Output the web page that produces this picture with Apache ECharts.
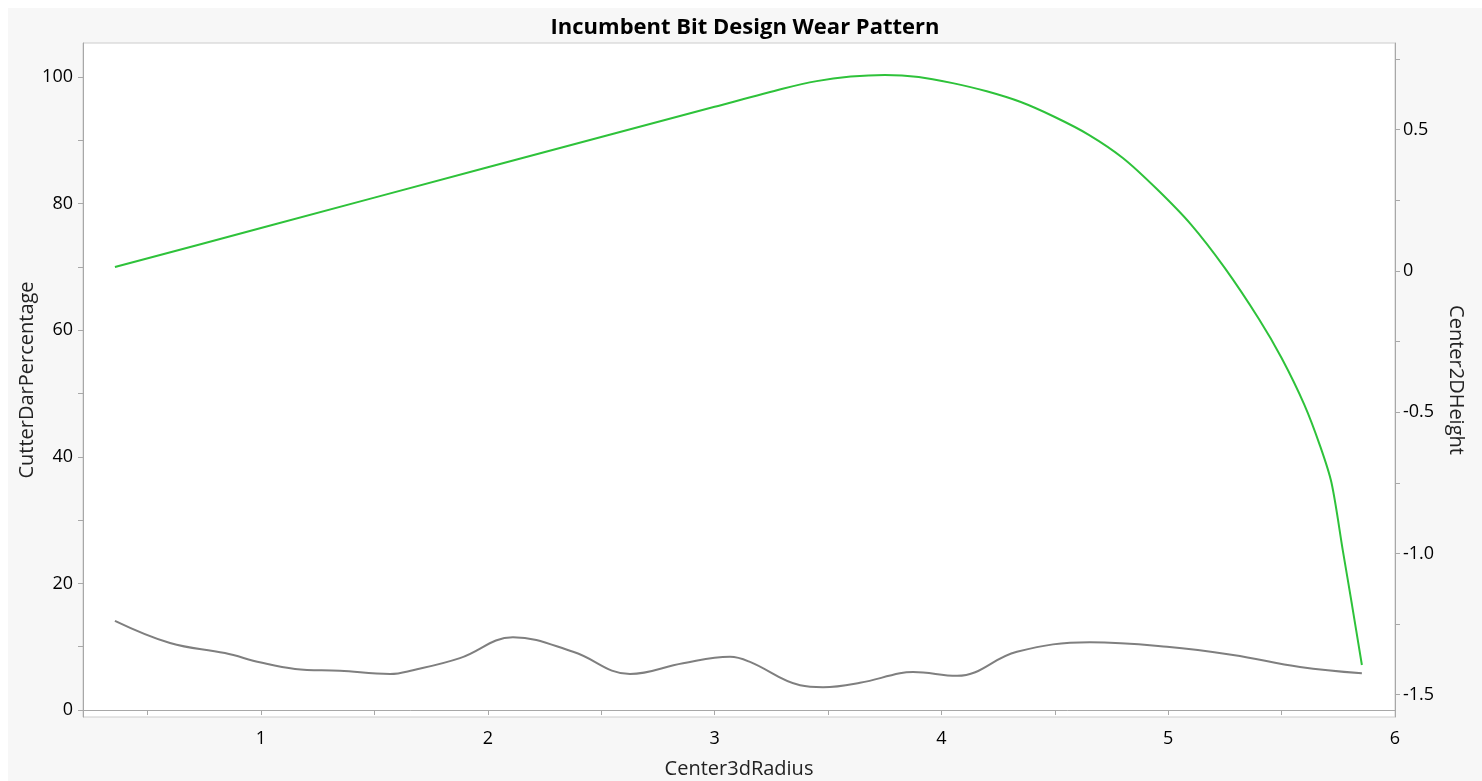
<!DOCTYPE html>
<html lang="en">
<head>
    <meta charset="UTF-8">
    <title>Incumbent Bit Design Wear Pattern</title>
    <style>
        html, body { margin: 0; padding: 0; background: #fff; }
        #chart {
            position: absolute;
            left: 8px;
            top: 8px;
            width: 1474px;
            height: 773px;
        }
    </style>
</head>
<body>
    <div id="chart"></div>
</body>
<script src="https://cdn.jsdelivr.net/npm/echarts@6/dist/echarts.min.js"></script>
<script>
    // Center2DHeight profile (green, right axis)
    var heightRadius = [0.356, 1.0, 2.0, 3.0, 3.30, 3.45, 3.60, 3.75, 3.90, 4.05, 4.20, 4.35, 4.50, 4.65, 4.80, 4.95, 5.10, 5.25, 5.40, 5.50, 5.60, 5.67, 5.72, 5.77, 5.81, 5.854];
    var heightValues = [0.014, 0.152, 0.367, 0.581, 0.645, 0.672, 0.688, 0.694, 0.687, 0.665, 0.636, 0.598, 0.545, 0.482, 0.400, 0.290, 0.165, 0.010, -0.170, -0.308, -0.473, -0.620, -0.750, -0.99, -1.18, -1.395];

    // CutterDarPercentage (gray, left axis)
    var darRadius = [0.356, 0.599, 0.841, 1.0, 1.15, 1.348, 1.569, 1.67, 1.877, 2.111, 2.376, 2.627, 2.861, 3.068, 3.156, 3.377, 3.478, 3.641, 3.817, 3.875, 4.069, 4.333, 4.655, 4.995, 5.286, 5.581, 5.854];
    var darValues = [14.1, 10.6, 9.0, 7.5, 6.5, 6.2, 5.7, 6.3, 8.2, 11.5, 9.2, 5.7, 7.4, 8.4, 7.6, 3.9, 3.6, 4.3, 5.8, 6.0, 5.4, 9.2, 10.7, 10.0, 8.7, 6.8, 5.8];

    // tick labels
    var xLabels = [1, 2, 3, 4, 5, 6];
    var xTicks = [0.5, 1, 1.5, 2, 2.5, 3, 3.5, 4, 4.5, 5, 5.5, 6];
    var leftLabels = [0, 20, 40, 60, 80, 100];
    var leftTicks = [0, 10, 20, 30, 40, 50, 60, 70, 80, 90, 100];
    var rightLabels = [-1.5, -1.0, -0.5, 0, 0.5];
    var rightTicks = [-1.5, -1.25, -1.0, -0.75, -0.5, -0.25, 0, 0.25, 0.5, 0.75];

    var font = 'Open Sans';
    var axisColor = '#a8a8a8';

    function pairs(xs, ys) {
        return xs.map(function (x, i) { return [x, ys[i]]; });
    }

    var mChart = echarts.init(document.getElementById('chart'));
    var option = {
        backgroundColor: '#f7f7f7',
        animation: false,
        title: {
            text: 'Incumbent Bit Design Wear Pattern',
            left: 'center',
            top: 4,
            textStyle: { fontFamily: font, fontWeight: 'bold', fontSize: 22, color: '#000' }
        },
        grid: {
            left: 75,
            top: 35,
            right: 87,
            bottom: 64,
            outerBoundsMode: 'none',
            show: true,
            backgroundColor: '#fff',
            borderColor: '#cccccc',
            borderWidth: 1
        },
        xAxis: {
            type: 'value',
            min: 0.2152,
            max: 6.0,
            name: 'Center3dRadius',
            nameLocation: 'middle',
            nameGap: 42,
            nameTextStyle: { fontFamily: font, fontSize: 20, color: '#222' },
            axisLine: { show: true, lineStyle: { color: axisColor } },
            axisTick: { show: true, customValues: xTicks, length: 5, lineStyle: { color: axisColor } },
            axisLabel: {
                customValues: xLabels,
                fontFamily: font, fontSize: 18, color: '#000', margin: 13
            },
            splitLine: { show: false }
        },
        yAxis: [
            {
                type: 'value',
                position: 'left',
                min: -1.1,
                max: 105.37,
                name: 'CutterDarPercentage',
                nameLocation: 'middle',
                nameGap: 46,
                nameMoveOverlap: false,
                nameTextStyle: { fontFamily: font, fontSize: 20, color: '#222' },
                axisLine: { show: true, lineStyle: { color: axisColor } },
                axisTick: { show: true, customValues: leftTicks, length: 5, lineStyle: { color: axisColor } },
                axisLabel: {
                    customValues: leftLabels,
                    fontFamily: font, fontSize: 18, color: '#000', margin: 10
                },
                splitLine: { show: false }
            },
            {
                type: 'value',
                position: 'right',
                min: -1.579,
                max: 0.807,
                name: 'Center2DHeight',
                nameLocation: 'middle',
                nameRotate: -90,
                nameGap: 51,
                nameMoveOverlap: false,
                nameTextStyle: { fontFamily: font, fontSize: 20, color: '#222' },
                axisLine: { show: true, lineStyle: { color: axisColor } },
                axisTick: { show: true, customValues: rightTicks, length: 5, lineStyle: { color: axisColor } },
                axisLabel: {
                    customValues: rightLabels,
                    fontFamily: font, fontSize: 18, color: '#000', margin: 8,
                    formatter: function (v) { return v === 0 ? '0' : v.toFixed(1); }
                },
                splitLine: { show: false }
            }
        ],
        series: [
            {
                name: 'CutterDarPercentage',
                type: 'line',
                yAxisIndex: 0,
                data: pairs(darRadius, darValues),
                smooth: 0.4,
                symbol: 'none',
                lineStyle: { color: '#7f7f7f', width: 2 }
            },
            {
                name: 'Center2DHeight',
                type: 'line',
                yAxisIndex: 1,
                data: pairs(heightRadius, heightValues),
                smooth: 0.3,
                symbol: 'none',
                lineStyle: { color: '#2ec23a', width: 2 }
            }
        ]
    };

    mChart.setOption(option);
</script>
</html>
